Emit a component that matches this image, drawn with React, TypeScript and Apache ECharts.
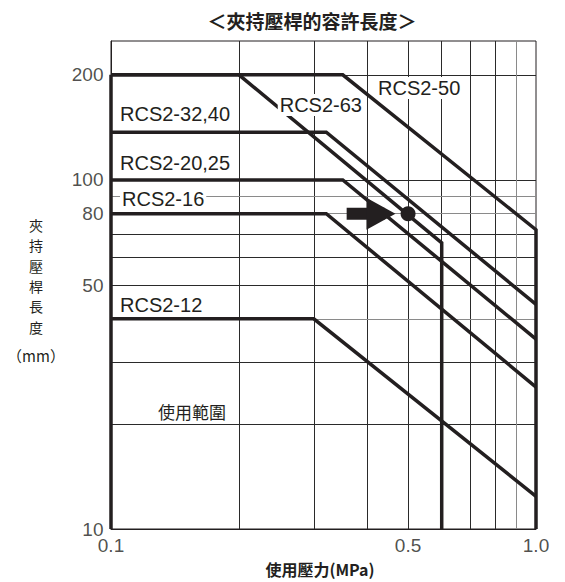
import React, { useEffect, useRef } from 'react';
import * as echarts from 'echarts';

const titleText = '＜夾持壓桿的容許長度＞';
const yAxisName = ['夾', '持', '壓', '桿', '長', '度'];
const yAxisUnit = '（mm）';
const xAxisName = '使用壓力(MPa)';

const xTickValues = [0.1, 0.5, 1.0];
const xTickLabels = ['0.1', '0.5', '1.0'];
const yTickValues = [10, 50, 80, 100, 200];
const yTickLabels = ['10', '50', '80', '100', '200'];

const xGridDark = [0.2, 0.3, 0.4, 0.5, 0.6, 0.7, 0.8];
const xGridLight = [0.9];
const yGridDark = [20, 30, 50, 60, 70, 100, 200];
const yGridLight = [40, 80, 90];

const rangeBoundary = [[0.1, 10], [0.1, 200]];
const rcs2_50 = [[0.1, 200], [0.351, 200], [1.0, 72], [1.0, 10]];
const rcs2_63 = [[0.1, 200], [0.2, 200], [0.6, 66], [0.6, 10]];
const rcs2_32_40 = [[0.1, 137], [0.321, 137], [1.0, 44]];
const rcs2_20_25 = [[0.1, 100], [0.351, 100], [1.0, 35]];
const rcs2_16 = [[0.1, 80], [0.321, 80], [1.0, 25.5]];
const rcs2_12 = [[0.1, 40], [0.3, 40], [1.0, 12.4]];

const arrowShaft = [[0.3585, 80], [0.44, 80]];
const arrowHead = [[0.4317, 80]];
const examplePoint = [[0.5, 80]];

const FONT = "'Liberation Sans', 'Noto Sans CJK TC', sans-serif";
const CJK = "'Noto Sans CJK TC', sans-serif";
const INK = '#231f20';

function curve(name: string, data: number[][]) {
  return {
    type: 'line',
    name,
    data,
    symbol: 'none',
    clip: false,
    silent: true,
    z: 5,
    lineStyle: { color: INK, width: 3.5, join: 'miter', cap: 'butt' },
  };
}

function gridLines(xs: number[], ys: number[], color: string) {
  return {
    type: 'line',
    data: [[0.1, 10]],
    symbol: 'none',
    silent: true,
    z: 1,
    lineStyle: { width: 0, opacity: 0 },
    markLine: {
      silent: true,
      symbol: ['none', 'none'],
      label: { show: false },
      lineStyle: { color, width: 1, type: 'solid' },
      emphasis: { disabled: true },
      data: [...xs.map((v) => ({ xAxis: v })), ...ys.map((v) => ({ yAxis: v }))],
    },
  };
}

function label(
  text: string,
  x: number,
  y: number,
  align: string,
  bg: boolean,
  font = FONT,
  size = 20,
  weight = 'normal',
  lineHeight?: number
) {
  return {
    type: 'text',
    x,
    y,
    z: 100,
    style: {
      text,
      fill: INK,
      fontSize: size,
      fontWeight: weight,
      fontFamily: font,
      lineHeight,
      textAlign: align,
      textVerticalAlign: 'middle',
      backgroundColor: bg ? '#ffffff' : undefined,
      padding: bg ? [1, 2, 1, 2] : undefined,
    },
  };
}

export default function App() {
  const ref = useRef<HTMLDivElement>(null);
  useEffect(() => {
    const chart = echarts.init(ref.current!, null, { renderer: 'svg' });
    const option: any = {
      animation: false,
      backgroundColor: '#ffffff',
      grid: { left: 111, right: 29, top: 41, bottom: 53, show: true, borderColor: INK, borderWidth: 1 },
      xAxis: {
        type: 'log',
        logBase: 10,
        min: 0.1,
        max: 1,
        axisLine: { show: true, lineStyle: { color: INK, width: 1 } },
        axisTick: { show: false },
        axisLabel: { show: false },
        splitLine: { show: false },
      },
      yAxis: {
        type: 'log',
        logBase: 10,
        min: 10,
        max: 250,
        axisLine: { show: true, lineStyle: { color: INK, width: 1 } },
        axisTick: { show: false },
        axisLabel: { show: false },
        splitLine: { show: false },
      },
      series: [
        gridLines(xGridDark, yGridDark, '#2a2a2a'),
        gridLines(xGridLight, yGridLight, '#8a8a8a'),
        curve('range', rangeBoundary),
        curve('RCS2-50', rcs2_50),
        curve('RCS2-63', rcs2_63),
        curve('RCS2-32,40', rcs2_32_40),
        curve('RCS2-20,25', rcs2_20_25),
        curve('RCS2-16', rcs2_16),
        curve('RCS2-12', rcs2_12),
        {
          type: 'line',
          data: arrowShaft,
          symbol: 'none',
          silent: true,
          z: 6,
          lineStyle: { color: INK, width: 12, cap: 'butt' },
        },
        {
          type: 'scatter',
          data: arrowHead,
          symbol: 'path://M0,0L1,0.5L0,1Z',
          symbolSize: [29, 32],
          silent: true,
          z: 6,
          itemStyle: { color: INK, opacity: 1 },
        },
        {
          type: 'scatter',
          data: examplePoint,
          symbol: 'circle',
          symbolSize: 15,
          silent: true,
          z: 6,
          itemStyle: { color: INK, opacity: 1 },
        },
        {
          type: 'scatter',
          clip: false,
          silent: true,
          symbol: 'circle',
          symbolSize: 1,
          itemStyle: { color: 'rgba(0,0,0,0)' },
          data: xTickValues.map((v, i) => ({ value: [v, 10], label: { formatter: xTickLabels[i] } })),
          label: { show: true, position: 'bottom', distance: 6, color: INK, fontSize: 19, fontFamily: FONT },
        },
        {
          type: 'scatter',
          clip: false,
          silent: true,
          symbol: 'circle',
          symbolSize: 1,
          itemStyle: { color: 'rgba(0,0,0,0)' },
          data: yTickValues.map((v, i) => ({ value: [0.1, v], label: { formatter: yTickLabels[i] } })),
          label: { show: true, position: 'left', distance: 7, color: INK, fontSize: 19, fontFamily: FONT },
        },
      ],
      graphic: [
        label(titleText, 312, 20, 'center', false, CJK, 19, 'bold'),
        ...yAxisName.map((ch, i) => label(ch, 36, 225 + i * 20.3, 'center', false, CJK, 14, 'normal', 14)),
        label(yAxisUnit, 36, 355, 'center', false, CJK, 15),
        label(xAxisName, 320, 569, 'center', false, CJK, 16, 'bold'),
        label('RCS2-32,40', 120, 114, 'left', false),
        label('RCS2-20,25', 120, 163, 'left', false),
        label('RCS2-16', 120, 199, 'left', true),
        label('RCS2-12', 120, 305, 'left', false),
        label('RCS2-63', 364, 105, 'right', true),
        label('RCS2-50', 376, 88, 'left', true),
        label('使用範圍', 158, 411, 'left', false, CJK, 17),
      ],
    };
    chart.setOption(option);
    return () => chart.dispose();
  }, []);
  return <div ref={ref} style={{ position: 'fixed', left: 0, top: 0, width: 565, height: 582 }} />;
}
